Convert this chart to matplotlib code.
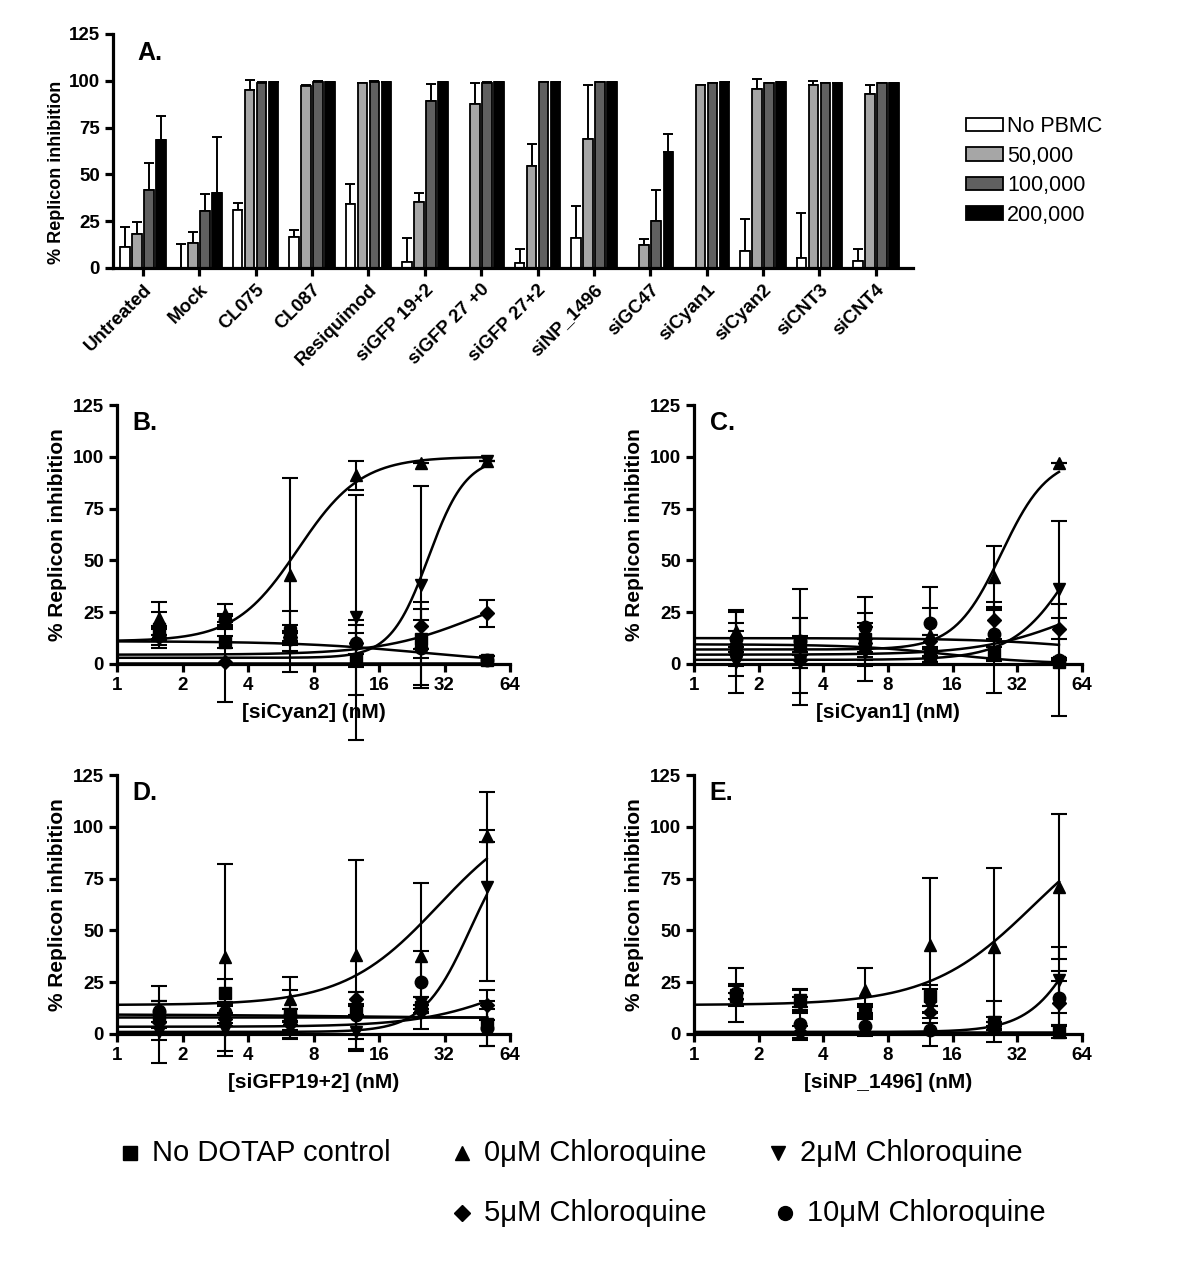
import numpy as np
import matplotlib.pyplot as plt
from matplotlib.lines import Line2D
from matplotlib.patches import Patch

plt.rcParams['font.family'] = ['Liberation Sans', 'DejaVu Sans']
plt.rcParams['font.weight'] = 'bold'
plt.rcParams['axes.labelweight'] = 'bold'

# ---- panel A data ----
groups = ['Untreated', 'Mock', 'CL075', 'CL087', 'Resiquimod', 'siGFP 19+2',
          'siGFP 27 +0', 'siGFP 27+2', 'siNP_1496', 'siGC47', 'siCyan1',
          'siCyan2', 'siCNT3', 'siCNT4']
pbmc_labels = ['No PBMC', '50,000', '100,000', '200,000']
no_pbmc = [11, 0, 31, 16.5, 34, 3, 0, 2.5, 16, 0, 0, 9.3, 5.2, 3.9]
no_pbmc_sd = [11, 13, 3.5, 4, 11, 13, 0, 7.5, 17, 0, 0, 16.7, 24, 6.5]
k50 = [18, 13.5, 95, 97.3, 99, 35.3, 87.6, 54.5, 69, 12.5, 98, 95.5, 98, 93]
k50_sd = [6.7, 5.8, 5.5, 0.3, 0, 5, 11.3, 12, 29, 3.2, 0, 5.5, 2, 4.6]
k100 = [41.4, 30.6, 99, 99.5, 99.5, 89, 98.7, 99.5, 99.5, 25, 99, 99, 99, 99]
k100_sd = [14.6, 9, 0.5, 0.5, 0.5, 9.2, 0.4, 0, 0, 16.5, 0, 0, 0, 0]
k200 = [68.3, 40, 99.5, 99.5, 99.5, 99.5, 99.5, 99.5, 99.5, 62, 99.5, 99.5, 99, 99]
k200_sd = [12.9, 30, 0, 0, 0, 0, 0, 0, 0, 9.6, 0, 0, 0, 0]

# ---- dose response data (B-E) ----
conc = [1.5625, 3.125, 6.25, 12.5, 25, 50]
series = ['No DOTAP control', '0\u03bcM Chloroquine', '2\u03bcM Chloroquine',
          '5\u03bcM Chloroquine', '10\u03bcM Chloroquine']
markers = ['s', '^', 'v', 'D', 'o']

# rows: square, up triangle, down triangle, diamond, circle
B_mean = [[17, 10.5, 15, 2, 12, 2],
          [22, 24, 43, 91, 97, 98],
          [15, 20, 16, 22.5, 38, 98],
          [13, 1, 13, 10, 18.5, 24.5],
          [14, 21, 12, 10, 7.5, 2]]
B_sd = [[8, 3, 4, 17, 9.3, 2],
        [8, 5, 47, 7, 0, 0],
        [3, 3, 9.6, 59, 48, 0],
        [5.3, 19.5, 3, 5, 11.5, 6.5],
        [3, 3, 3, 11.3, 19, 2]]
C_mean = [[7, 9, 12, 4, 5, 1],
          [16, 10, 9, 14, 42, 97],
          [1, 1, 6, 9, 6, 36],
          [5, 2, 10, 11, 21, 17],
          [12, 11, 18, 20, 14.5, 2]]
C_sd = [[13, 4.6, 12.8, 3, 3, 1],
        [10, 12, 3, 13, 15, 0],
        [15, 21, 14, 5, 20, 33],
        [3, 4, 8, 3, 9, 5],
        [13, 25, 14.5, 17, 13, 27]]
D_mean = [[8, 20, 9.5, 11.5, 13, 5],
          [10, 37, 17, 38, 37.5, 95.5],
          [1, 2, 3, 1, 15, 71],
          [6, 7, 5, 17, 11, 14],
          [11, 10.5, 9, 9, 25, 3]]
D_sd = [[8, 6.6, 11.8, 3, 4.8, 11],
        [13, 45, 10.5, 46, 35.3, 3],
        [15, 12.7, 5, 8, 3, 45.6],
        [3, 3, 3, 3.5, 3, 7.3],
        [5, 5, 3, 11.5, 15, 9]]
E_mean = [[18.5, 16.5, 11, 18.5, 5, 1],
          [19, 16, 21, 43, 42, 71],
          [19, 14, 11.5, 13.5, 6, 26],
          [17, 1, 10, 10.5, 3, 15],
          [20, 5, 4, 2, 3, 17.5]]
E_sd = [[5.2, 5, 3, 5, 3, 3],
        [13, 5, 10.7, 32.4, 38, 35],
        [5, 4, 3, 8, 10, 16],
        [3, 3, 3, 3, 3, 10.8],
        [3, 8, 5, 8, 3, 13]]

# fitted curves: (low, high, EC50 nM, hill); None = no curve
B_fit = [(11, 0, 25, 1.5), (11, 100, 6.8, 3), (3, 100, 27, 5), (4.5, 40, 44, 2), (0.6, 0.6, 10, 1)]
C_fit = [(12.5, 0, 100, 1.5), (7, 100, 27, 4), (2, 100, 62, 3), (4.5, 40, 60, 2), (9.5, 0, 15, 2)]
D_fit = [(9.5, 7.5, 12, 1), (14, 110, 30, 2), (1, 100, 42, 4), (3.5, 40, 70, 2), (8, 8, 10, 1)]
E_fit = [None, (14, 110, 38, 1.8), (1, 100, 68, 3.5), (0.5, 0.5, 10, 1), (0.8, 0.8, 10, 1)]

W, H = 1200, 1261
fig = plt.figure(figsize=(W / 100, H / 100), dpi=100)


def box(l, r, t, b):
    return [l / W, 1 - b / H, (r - l) / W, (b - t) / H]


def style(ax):
    for s in ['top', 'right']:
        ax.spines[s].set_visible(False)
    for s in ['left', 'bottom']:
        ax.spines[s].set_linewidth(2.3)
    ax.tick_params(width=2.3, length=6, labelsize=13.5, direction='out')
    ax.set_ylim(0, 125)
    ax.set_yticks([0, 25, 50, 75, 100, 125])


# ---- panel A ----
ax = fig.add_axes(box(113, 913, 34, 268))
style(ax)
x = np.arange(len(groups))
vals = [no_pbmc, k50, k100, k200]
sds = [no_pbmc_sd, k50_sd, k100_sd, k200_sd]
colors = ['white', '#a6a6a6', '#606060', 'black']
for i in range(4):
    xi = x + (i - 1.5) * 0.213
    ax.bar(xi, vals[i], width=0.17, color=colors[i], edgecolor='black', linewidth=1.3, zorder=2)
    sd = np.array(sds[i])
    keep = np.array(vals[i]) + sd > 0.5
    ax.errorbar(xi[keep], np.array(vals[i])[keep], yerr=[np.zeros(keep.sum()), sd[keep]],
                fmt='none', ecolor='black', elinewidth=1.4, capsize=3.5, capthick=1.4, zorder=1)
ax.set_xlim(-0.53, 13.66)
ax.set_xticks(x)
ax.set_xticklabels(groups, rotation=45, ha='right', rotation_mode='anchor')
ax.set_ylabel('% Replicon inhibition', fontsize=13)
ax.yaxis.set_label_coords(-0.06, 0.41)
ax.text(0.03, 0.92, 'A.', transform=ax.transAxes, fontsize=18, fontweight='bold', va='center')
handles = [Patch(facecolor=c, edgecolor='black', linewidth=1.3) for c in colors]
fig.legend(handles, pbmc_labels, loc='upper left', bbox_to_anchor=(966 / W, 1 - 116 / H),
           frameon=False, prop={'size': 15.5, 'weight': 'normal'}, handlelength=1.7,
           handleheight=0.6, labelspacing=0.4, handletextpad=0.2, borderpad=0, borderaxespad=0)


def fit_curve(p, xs):
    low, high, ec50, hill = p
    return low + (high - low) / (1 + (ec50 / xs) ** hill)


def dose_panel(rect, means, sds, fits, letter, xlabel):
    ax = fig.add_axes(rect)
    style(ax)
    ax.set_xscale('log', base=2)
    ax.set_xlim(1, 64)
    ax.set_xticks([1, 2, 4, 8, 16, 32, 64])
    ax.set_xticklabels(['1', '2', '4', '8', '16', '32', '64'])
    ax.minorticks_off()
    xs = np.logspace(0, np.log2(50), 300, base=2)
    for k in range(5):
        if fits[k] is not None:
            ax.plot(xs, fit_curve(fits[k], xs), color='black', lw=1.8, zorder=3)
        ax.errorbar(conc, means[k], yerr=sds[k], fmt=markers[k], color='black',
                    ms=7 if markers[k] == 'D' else 9, elinewidth=1.5, capsize=6, capthick=1.5,
                    clip_on=False, zorder=4)
    ax.set_ylabel('% Replicon inhibition', fontsize=15, labelpad=4)
    ax.set_xlabel(xlabel, fontsize=15, labelpad=6)
    ax.text(0.04, 0.93, letter, transform=ax.transAxes, fontsize=18, fontweight='bold', va='center')
    return ax


dose_panel(box(117, 510, 405, 664), B_mean, B_sd, B_fit, 'B.', '[siCyan2] (nM)')
dose_panel(box(694, 1082, 405, 664), C_mean, C_sd, C_fit, 'C.', '[siCyan1] (nM)')
dose_panel(box(117, 510, 775, 1034), D_mean, D_sd, D_fit, 'D.', '[siGFP19+2] (nM)')
dose_panel(box(694, 1082, 775, 1034), E_mean, E_sd, E_fit, 'E.', '[siNP_1496] (nM)')

# ---- bottom legend ----
leg_pos = [(130, 1153), (462, 1153), (778, 1153), (462, 1213), (785, 1213)]
for k, (px, py) in enumerate(leg_pos):
    fig.add_artist(Line2D([px / W], [1 - py / H], marker=markers[k], color='black',
                          ms=8 if markers[k] == 'D' else 10, transform=fig.transFigure))
    fig.text((px + 22) / W, 1 - py / H, series[k], fontsize=21, fontweight='normal', va='center')

fig.savefig('out.png', dpi=100)
